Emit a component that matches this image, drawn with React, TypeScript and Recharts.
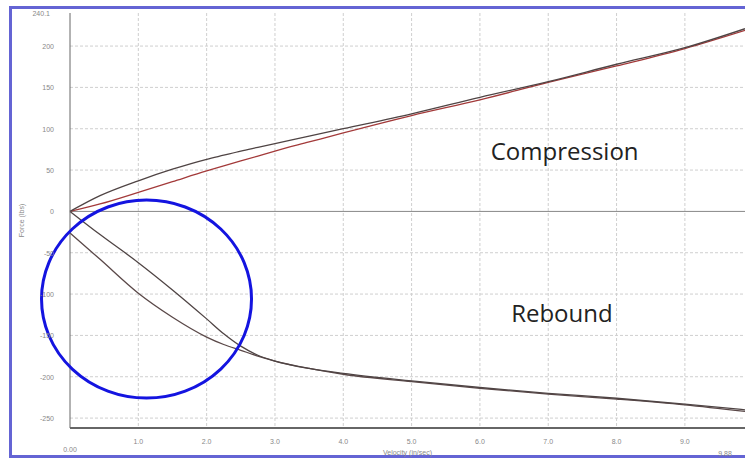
import {
  LineChart,
  Line,
  XAxis,
  YAxis,
  CartesianGrid,
  ReferenceLine,
  ReferenceDot,
} from "recharts";

// velocity (in/sec)
const velocity = [0, 0.44, 1.0, 1.5, 2.0, 2.25, 2.5, 2.75, 3.0, 3.5, 4.0, 5.0, 6.0, 7.0, 8.0, 9.0, 9.88];

// force (lbs)
const compressionUp = [0, 19, 37, 51, 63, 68, 73, 77.5, 82, 91, 100, 118, 138, 157, 178, 198, 221];
const compressionDown = [0, 9, 23, 36, 49, 55, 61, 67, 73, 84, 95, 116, 135, 156, 176, 197, 219];
const reboundA = [0, -28, -62, -95, -130, -148, -163, -174, -181, -190, -196, -205, -213, -220, -226, -233, -240];
const reboundB = [-26, -58, -99, -128, -152, -161, -168, -175, -181, -190, -197, -206, -214, -221, -227, -234, -242];

const xTicks = [0, 1, 2, 3, 4, 5, 6, 7, 8, 9, 9.88];
const yTicks = [-262, -250, -200, -150, -100, -50, 0, 50, 100, 150, 200, 240];
const xGrid = [1, 2, 3, 4, 5, 6, 7, 8, 9];
const yGrid = [-250, -200, -150, -100, -50, 50, 100, 150, 200];

const X_MIN = 0;
const X_MAX = 9.88;
const Y_MIN = -262;
const Y_MAX = 240;

const data = velocity.map((v, i) => ({
  v,
  cu: compressionUp[i],
  cd: compressionDown[i],
  ra: reboundA[i],
  rb: reboundB[i],
}));

const tickFont = { fontSize: 7, fill: "#888", fontFamily: "Liberation Sans, Arial, sans-serif" };

function XTick({ x, y, payload }: any) {
  const v = payload.value;
  if (v === X_MIN) {
    return <text x={x} y={y + 16} textAnchor="middle" {...tickFont}>0.00</text>;
  }
  if (v === X_MAX) {
    return <text x={x - 6} y={y + 20} textAnchor="middle" {...tickFont}>9.88</text>;
  }
  return <text x={x} y={y + 8} textAnchor="middle" {...tickFont}>{v.toFixed(1)}</text>;
}

function YTick({ x, y, payload }: any) {
  const v = payload.value;
  if (v === Y_MAX) {
    return <text x={x - 12} y={y + 3} textAnchor="end" {...tickFont}>240.1</text>;
  }
  if (v === Y_MIN) {
    return <text x={x - 12} y={y + 1} textAnchor="end" {...tickFont}>-262.0</text>;
  }
  return <text x={x - 8} y={y + 3} textAnchor="end" {...tickFont}>{v}</text>;
}

function Note({ cx, cy, text }: any) {
  return (
    <text
      x={cx}
      y={cy}
      textAnchor="middle"
      dominantBaseline="central"
      fontSize={24}
      fill="#222"
      fontFamily="Open Sans, Liberation Sans, sans-serif"
    >
      {text}
    </text>
  );
}

function Ring({ cx, cy }: any) {
  return <ellipse cx={cx} cy={cy} rx={105} ry={99} fill="none" stroke="#1414e0" strokeWidth={3} />;
}

export default function App() {
  return (
    <div style={{ position: "absolute", left: 0, top: 0, width: 745, height: 459, overflow: "hidden", background: "#fff" }}>
      <div
        style={{
          position: "absolute",
          left: 9,
          top: 6,
          width: 760,
          height: 446,
          border: "3px solid #6464d4",
          background: "#fff",
        }}
      />
      <div style={{ position: "absolute", left: 0, top: 0 }}>
        <LineChart width={745} height={459} data={data} margin={{ top: 13, right: 0, bottom: 0, left: 0 }}>
          <CartesianGrid
            stroke="#cfcfcf"
            strokeDasharray="3 2"
            horizontalValues={yGrid}
            verticalValues={xGrid}
          />
          <XAxis
            dataKey="v"
            type="number"
            domain={[X_MIN, X_MAX]}
            ticks={xTicks}
            height={31}
            tick={<XTick />}
            tickLine={false}
            axisLine={{ stroke: "#666", strokeWidth: 2 }}
            label={{ value: "Velocity (in/sec)", position: "insideBottom", offset: 4, style: tickFont }}
          />
          <YAxis
            type="number"
            domain={[Y_MIN, Y_MAX]}
            ticks={yTicks}
            width={70}
            tick={<YTick />}
            tickLine={false}
            axisLine={{ stroke: "#666", strokeWidth: 1 }}
            label={{ value: "Force (lbs)", angle: -90, position: "insideLeft", offset: 22, style: { ...tickFont, textAnchor: "middle" } }}
          />
          <ReferenceLine y={0} stroke="#888" strokeWidth={1} />
          <Line type="monotone" dataKey="cd" stroke="#a33a3a" strokeWidth={1.3} dot={false} isAnimationActive={false} />
          <Line type="monotone" dataKey="cu" stroke="#4f4444" strokeWidth={1.3} dot={false} isAnimationActive={false} />
          <Line type="monotone" dataKey="rb" stroke="#5a4848" strokeWidth={1.3} dot={false} isAnimationActive={false} />
          <Line type="monotone" dataKey="ra" stroke="#4f4444" strokeWidth={1.3} dot={false} isAnimationActive={false} />
          <ReferenceDot x={7.24} y={74} shape={(p: any) => <Note {...p} text="Compression" />} />
          <ReferenceDot x={7.2} y={-122} shape={(p: any) => <Note {...p} text="Rebound" />} />
          <ReferenceDot x={1.12} y={-106} shape={(p: any) => <Ring {...p} />} />
        </LineChart>
      </div>
    </div>
  );
}
